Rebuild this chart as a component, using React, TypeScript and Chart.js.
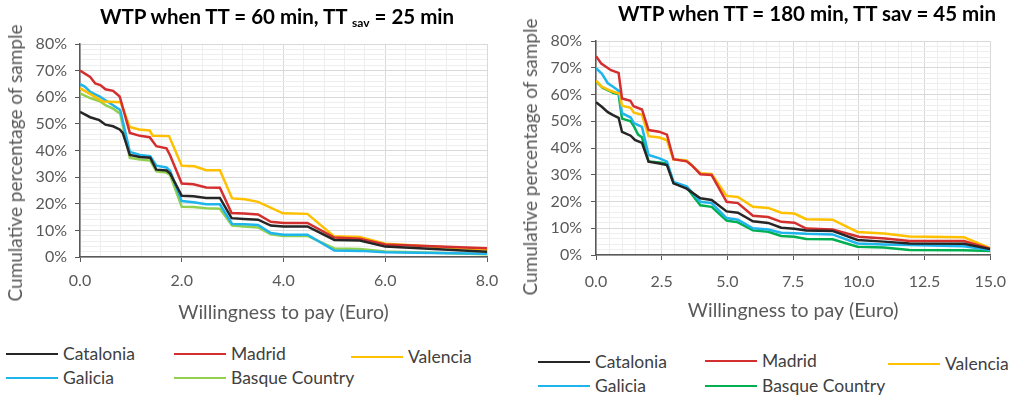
import React, { useEffect, useRef } from 'react';
import { Chart, registerables } from 'chart.js';

Chart.register(...registerables);

type Pt = [number, number];

// ---- Left chart: WTP when TT = 60 min, TT sav = 25 min ----
const leftCatalonia: Pt[] = [[0,54.5],[0.2,52.5],[0.38,51.4],[0.5,49.7],[0.65,49.1],[0.78,47.9],[0.84,46.6],[0.98,38.3],[1.18,37.6],[1.38,37.3],[1.5,32.8],[1.7,32.5],[1.77,31.4],[2.0,23.0],[2.23,22.8],[2.48,22.2],[2.75,22.2],[2.98,14.6],[3.22,14.3],[3.5,14.0],[3.75,11.8],[4.0,11.5],[4.47,11.5],[5.0,6.4],[5.5,6.2],[6.0,3.9],[8.0,2.0]];
const leftMadrid: Pt[] = [[0,70.0],[0.2,67.6],[0.3,65.2],[0.4,64.6],[0.5,63.0],[0.65,62.4],[0.78,60.3],[0.98,46.6],[1.18,45.5],[1.37,45.0],[1.5,41.6],[1.7,40.8],[1.77,38.2],[2.0,27.6],[2.23,27.3],[2.48,26.1],[2.75,26.0],[2.98,16.5],[3.22,16.3],[3.5,16.0],[3.75,13.2],[4.0,12.8],[4.47,12.8],[5.0,7.3],[5.5,6.9],[6.0,4.7],[8.0,3.3]];
const leftValencia: Pt[] = [[0,63.4],[0.22,61.0],[0.45,58.4],[0.8,58.1],[0.98,48.8],[1.16,47.9],[1.37,47.5],[1.43,45.5],[1.75,45.4],[2.0,34.3],[2.25,34.1],[2.48,32.6],[2.75,32.6],[2.99,22.0],[3.24,21.7],[3.5,20.7],[3.99,16.4],[4.47,16.2],[4.99,7.8],[5.5,7.5],[6.0,5.0],[8.0,2.7]];
const leftGalicia: Pt[] = [[0,64.9],[0.1,63.9],[0.2,62.0],[0.39,60.2],[0.5,58.9],[0.65,57.0],[0.79,55.2],[0.98,39.5],[1.18,38.3],[1.38,37.9],[1.5,34.3],[1.7,33.6],[1.77,32.4],[2.0,21.0],[2.23,20.6],[2.48,19.8],[2.75,19.8],[2.99,12.4],[3.22,12.3],[3.5,12.0],[3.75,9.0],[4.0,8.4],[4.47,8.4],[5.0,2.4],[5.5,2.3],[6.0,1.8],[8.0,1.2]];
const leftBasque: Pt[] = [[0,61.5],[0.2,59.7],[0.39,58.5],[0.5,57.0],[0.65,55.7],[0.79,53.8],[0.98,37.2],[1.18,36.6],[1.38,36.2],[1.5,32.2],[1.7,31.7],[1.77,30.8],[2.0,18.9],[2.23,18.8],[2.48,18.3],[2.75,18.1],[2.99,11.8],[3.22,11.5],[3.5,11.1],[3.75,8.5],[4.0,7.9],[4.47,7.9],[5.0,3.2],[5.5,3.0],[6.0,2.1],[8.0,1.0]];

// ---- Right chart: WTP when TT = 180 min, TT sav = 45 min ----
const rightCatalonia: Pt[] = [[0,57.1],[0.22,55.4],[0.45,53.4],[0.65,52.3],[0.86,51.3],[0.99,46.0],[1.32,44.6],[1.48,43.0],[1.75,41.9],[2.0,34.9],[2.42,34.2],[2.7,33.6],[2.95,26.8],[3.45,24.8],[3.97,21.2],[4.4,20.6],[4.97,16.3],[5.4,15.8],[5.97,12.6],[6.55,12.0],[7.05,10.2],[7.55,9.8],[8.0,9.2],[9.0,9.0],[9.95,5.6],[10.95,5.0],[11.93,4.3],[14.0,4.2],[15.0,2.2]];
const rightMadrid: Pt[] = [[0,74.3],[0.2,71.6],[0.57,69.1],[0.86,68.1],[0.99,58.5],[1.31,57.6],[1.43,55.6],[1.75,54.4],[2.0,46.7],[2.4,46.1],[2.7,45.0],[2.95,35.8],[3.45,35.0],[3.65,33.5],[3.97,30.2],[4.4,29.9],[4.97,19.9],[5.4,19.4],[5.97,14.7],[6.55,14.2],[7.05,12.4],[7.55,12.1],[8.0,9.9],[9.0,9.5],[10.0,6.8],[11.0,6.2],[11.93,5.2],[14.0,5.2],[15.0,2.4]];
const rightValencia: Pt[] = [[0,65.2],[0.22,62.9],[0.6,61.2],[0.9,60.3],[0.99,55.8],[1.32,55.0],[1.44,53.2],[1.75,52.4],[2.0,44.4],[2.42,43.9],[2.7,42.9],[2.95,35.7],[3.45,35.3],[3.97,30.6],[4.4,30.3],[4.97,22.1],[5.4,21.7],[5.97,18.0],[6.55,17.6],[7.05,15.8],[7.55,15.5],[8.0,13.4],[9.0,13.2],[9.95,8.6],[10.95,8.0],[11.93,6.9],[14.0,6.6],[15.0,2.6]];
const rightGalicia: Pt[] = [[0,69.8],[0.22,67.8],[0.45,64.2],[0.65,62.9],[0.86,61.4],[0.99,53.0],[1.32,51.4],[1.44,49.3],[1.75,47.9],[2.0,37.4],[2.42,36.1],[2.7,34.9],[2.95,27.3],[3.45,25.7],[3.97,19.9],[4.4,19.4],[4.97,13.8],[5.4,13.2],[5.97,10.0],[6.55,9.5],[7.05,8.3],[7.55,8.1],[8.0,7.9],[9.0,7.7],[9.95,4.3],[10.95,3.9],[11.93,3.7],[14.0,3.3],[15.0,1.9]];
const rightBasque: Pt[] = [[0,65.0],[0.25,62.5],[0.5,61.4],[0.65,60.6],[0.86,60.1],[0.99,51.0],[1.32,50.0],[1.45,48.0],[1.6,45.0],[1.75,44.0],[2.0,35.0],[2.42,34.6],[2.7,34.2],[2.95,26.9],[3.45,25.2],[3.97,18.6],[4.4,18.0],[4.97,12.9],[5.4,12.2],[5.97,9.2],[6.55,8.7],[7.05,7.1],[7.55,6.8],[8.0,6.0],[9.0,5.9],[9.95,3.1],[10.95,2.8],[11.93,1.9],[14.0,1.8],[15.0,1.5]];

const seriesNames = ['Catalonia', 'Madrid', 'Valencia', 'Galicia', 'Basque Country'];
const leftColors = ['#262626', '#D32F2F', '#FFC000', '#1EB4EC', '#92D050'];
const rightColors = ['#262626', '#D32F2F', '#FFC000', '#1EB4EC', '#00B050'];

const xTitle = 'Willingness to pay (Euro)';
const yTitle = 'Cumulative percentage of sample';

const MAJOR = '#d9d9d9';
const MINOR = '#eeeeee';
const AXIS = '#595959';
const TEXT = '#595959';
const FONT = 'Lato';

const isMult = (v: number, m: number) => Math.abs(v / m - Math.round(v / m)) < 1e-6;

interface PanelProps {
  left: number;
  width: number;
  height: number;
  series: Pt[][];
  colors: string[];
  xMax: number;
  xStep: number;
  xMajor: number;
  plotL: number;
  plotR: number;
  plotT: number;
  plotB: number;
  xTickPad: number;
  yTickPad: number;
  xTitlePad: number;
}

function Panel(p: PanelProps) {
  const ref = useRef<HTMLCanvasElement>(null);
  useEffect(() => {
    const chart = new Chart(ref.current as HTMLCanvasElement, {
      type: 'scatter',
      data: {
        datasets: p.series.map((s, i) => ({
          label: seriesNames[i],
          data: s.map(([x, y]) => ({ x, y })),
          showLine: true,
          borderColor: p.colors[i],
          backgroundColor: p.colors[i],
          borderWidth: 2.5,
          pointRadius: 0,
          pointHoverRadius: 0,
          tension: 0,
          fill: false,
        })),
      },
      options: {
        responsive: false,
        animation: false,
        devicePixelRatio: 1,
        layout: { padding: { left: 0, top: p.plotT, right: p.width - p.plotR, bottom: 0 } },
        plugins: { legend: { display: false }, tooltip: { enabled: false }, title: { display: false } },
        scales: {
          x: {
            type: 'linear',
            min: 0,
            max: p.xMax,
            afterFit: (s: any) => { s.height = p.height - p.plotB; },
            ticks: {
              stepSize: p.xStep,
              autoSkip: false,
              maxRotation: 0,
              minRotation: 0,
              padding: p.xTickPad,
              color: TEXT,
              font: { family: FONT, size: 16 },
              callback: (v: any) => (isMult(Number(v), p.xMajor) ? Number(v).toFixed(1) : ''),
            },
            grid: {
              color: (c: any) => (c.tick && !isMult(c.tick.value, p.xMajor) ? MINOR : MAJOR),
              tickColor: (c: any) => (c.tick && isMult(c.tick.value, p.xMajor) ? AXIS : 'rgba(0,0,0,0)'),
              tickLength: 5,
              lineWidth: 1,
            },
            border: { color: AXIS, width: 1.5 },
            title: {
              display: true,
              text: xTitle,
              color: TEXT,
              font: { family: FONT, size: 19.5 },
              padding: { top: 0, bottom: p.xTitlePad },
            },
          },
          y: {
            type: 'linear',
            min: 0,
            max: 80,
            afterFit: (s: any) => { s.width = p.plotL; },
            ticks: {
              stepSize: 2,
              autoSkip: false,
              padding: p.yTickPad,
              color: TEXT,
              font: { family: FONT, size: 16 },
              callback: (v: any) => (isMult(Number(v), 10) ? `${Math.round(Number(v))}%` : ''),
            },
            grid: {
              color: (c: any) => (c.tick && !isMult(c.tick.value, 10) ? MINOR : MAJOR),
              tickColor: (c: any) => (c.tick && isMult(c.tick.value, 10) ? AXIS : 'rgba(0,0,0,0)'),
              tickLength: 5,
              lineWidth: 1,
            },
            border: { color: AXIS, width: 1.5 },
          },
        },
      },
    } as any);
    return () => chart.destroy();
  }, []);
  return (
    <canvas
      ref={ref}
      width={p.width}
      height={p.height}
      style={{ position: 'absolute', left: p.left, top: 0, width: p.width, height: p.height }}
    />
  );
}

function LegendItem({ x, y, color, name }: { x: number; y: number; color: string; name: string }) {
  return (
    <>
      <div style={{ position: 'absolute', left: x, top: y - 1, width: 52, height: 2, background: color }} />
      <div
        style={{
          position: 'absolute',
          left: x + 57,
          top: y,
          transform: 'translateY(-50%)',
          fontFamily: FONT,
          fontSize: 17.5,
          lineHeight: '20px',
          color: '#404040',
          whiteSpace: 'nowrap',
        }}
      >
        {name}
      </div>
    </>
  );
}

function YTitle({ x, y }: { x: number; y: number }) {
  return (
    <div
      style={{
        position: 'absolute',
        left: x,
        top: y,
        transform: 'translate(-50%, -50%) rotate(-90deg)',
        fontFamily: FONT,
        fontSize: 19,
        lineHeight: '22px',
        color: TEXT,
        whiteSpace: 'nowrap',
      }}
    >
      {yTitle}
    </div>
  );
}

const titleStyle = (x: number, y: number): React.CSSProperties => ({
  position: 'absolute',
  left: x,
  top: y,
  transform: 'translate(-50%, -50%)',
  fontFamily: FONT,
  fontWeight: 700,
  fontSize: 20.5,
  lineHeight: '26px',
  color: '#000',
  whiteSpace: 'nowrap',
});

export default function App() {
  const leftSeries = [leftCatalonia, leftMadrid, leftValencia, leftGalicia, leftBasque];
  const rightSeries = [rightCatalonia, rightMadrid, rightValencia, rightGalicia, rightBasque];
  const leftLegendPos: [number, number][] = [[6, 354], [174, 354], [351, 357], [6, 378], [174, 378]];
  const rightLegendPos: [number, number][] = [[538, 362], [705, 361], [888, 364], [538, 386], [705, 386]];
  return (
    <div style={{ position: 'absolute', left: 0, top: 0, width: 1018, height: 402, background: '#fff', overflow: 'hidden' }}>
      <Panel left={0} width={509} height={330} series={leftSeries} colors={leftColors}
        xMax={8} xStep={0.4} xMajor={2} plotL={80} plotR={487} plotT={44} plotB={257}
        xTickPad={9} yTickPad={8} xTitlePad={6} />
      <Panel left={509} width={509} height={330} series={rightSeries} colors={rightColors}
        xMax={15} xStep={0.5} xMajor={2.5} plotL={87} plotR={490} plotT={41} plotB={255}
        xTickPad={12} yTickPad={9} xTitlePad={8} />
      <div style={titleStyle(277, 15.5)}>
        WTP when TT = 60 min, TT <sub style={{ fontSize: 12, lineHeight: 0, verticalAlign: -3 }}>sav</sub> = 25 min
      </div>
      <div style={titleStyle(807, 13)}>WTP when TT = 180 min, TT sav = 45 min</div>
      <YTitle x={15} y={163} />
      <YTitle x={530} y={157} />
      {seriesNames.map((n, i) => (
        <LegendItem key={'l' + i} x={leftLegendPos[i][0]} y={leftLegendPos[i][1]} color={leftColors[i]} name={n} />
      ))}
      {seriesNames.map((n, i) => (
        <LegendItem key={'r' + i} x={rightLegendPos[i][0]} y={rightLegendPos[i][1]} color={rightColors[i]} name={n} />
      ))}
    </div>
  );
}
